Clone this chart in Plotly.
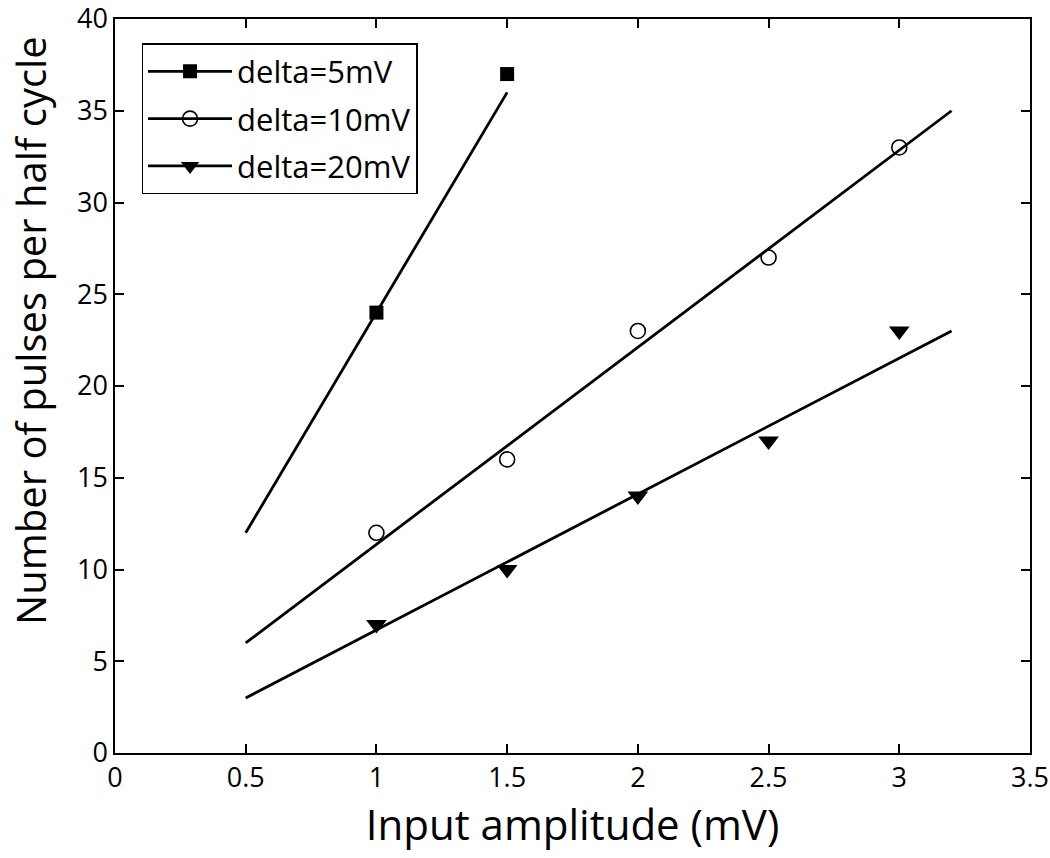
import plotly.graph_objects as go

# measured points
x5 = [1.0, 1.5]
y5 = [24, 37]
x10 = [1.0, 1.5, 2.0, 2.5, 3.0]
y10 = [12, 16, 23, 27, 33]
x20 = [1.0, 1.5, 2.0, 2.5, 3.0]
y20 = [7, 10, 14, 17, 23]

# fitted lines
fit5_x = [0.5, 1.5]
fit5_y = [12, 36]
fit10_x = [0.5, 3.2]
fit10_y = [6, 35]
fit20_x = [0.5, 3.2]
fit20_y = [3, 23]

names = ["delta=5mV", "delta=10mV", "delta=20mV"]
xticks = [0, 0.5, 1, 1.5, 2, 2.5, 3, 3.5]
xticklabels = ["0", "0.5", "1", "1.5", "2", "2.5", "3", "3.5"]
yticks = [0, 5, 10, 15, 20, 25, 30, 35, 40]
xtitle = "Input amplitude (mV)"
ytitle = "Number of pulses per half cycle"

FONT = "Open Sans, Lato, DejaVu Sans, sans-serif"
LW = 2.8

fig = go.Figure()

series = [
    (fit5_x, fit5_y, x5, y5, dict(symbol="square", size=14, color="black"), names[0]),
    (fit10_x, fit10_y, x10, y10, dict(symbol="circle-open", size=15, color="black", line=dict(width=1.6, color="black")), names[1]),
    (fit20_x, fit20_y, x20, y20, dict(symbol="triangle-down", size=18, color="black"), names[2]),
]

for i, (fx, fy, mx, my, mk, nm) in enumerate(series):
    fig.add_trace(go.Scatter(x=fx, y=fy, mode="lines", line=dict(color="black", width=LW),
                             showlegend=False, hoverinfo="skip"))
    fig.add_trace(go.Scatter(x=mx, y=my, mode="markers", marker=mk, showlegend=False, name=nm))
    # legend entry (line + marker)
    fig.add_trace(go.Scatter(x=[None], y=[None], mode="lines+markers", name=nm, legendgroup=f"g{i}",
                             line=dict(color="black", width=LW), marker=mk))

axis_common = dict(
    showline=True, linecolor="black", linewidth=1.5, mirror="ticks",
    ticks="inside", ticklen=9, tickwidth=1.5, tickcolor="black",
    showgrid=False, zeroline=False, automargin=False,
    ticklabeloverflow="allow",
    tickfont=dict(family=FONT, size=27, color="black"),
)

fig.update_xaxes(range=[0, 3.5], tickvals=xticks, ticktext=xticklabels,
                 title=dict(text=xtitle, font=dict(family=FONT, size=42, color="black")),
                 **axis_common)
fig.update_yaxes(range=[0, 40], tickvals=yticks, **axis_common)

fig.add_annotation(text=ytitle, textangle=-90, showarrow=False,
                   xref="paper", yref="paper", x=0, y=0.575, xanchor="center", yanchor="middle",
                   xshift=-84, font=dict(family=FONT, size=40, color="black"))

fig.update_layout(
    width=1050, height=858,
    margin=dict(l=115, r=20, t=19, b=105),
    plot_bgcolor="white", paper_bgcolor="white",
    legend=dict(x=0.029, y=0.967, xanchor="left", yanchor="top",
                bordercolor="black", borderwidth=1.5, bgcolor="white",
                font=dict(family=FONT, size=31, color="black"),
                itemwidth=84, tracegroupgap=4),
)

fig.write_html("out.html", config={"displayModeBar": False},
               post_script="document.body.style.margin='0';")
